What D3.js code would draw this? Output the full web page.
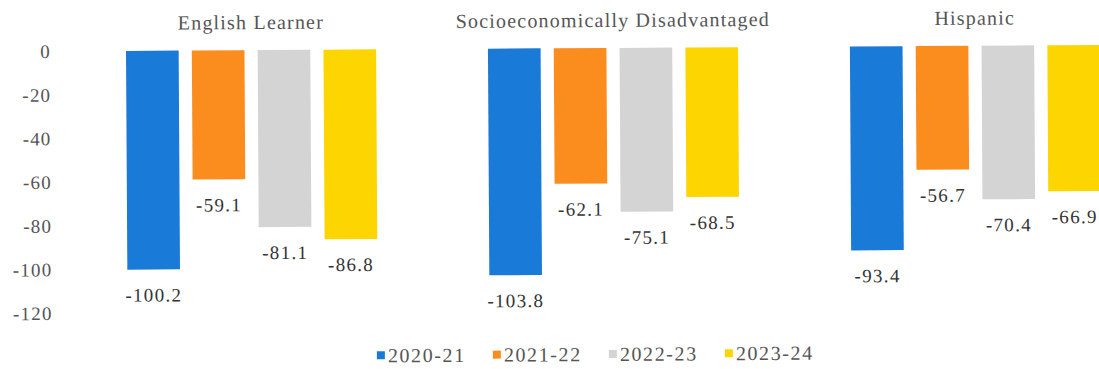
<!DOCTYPE html>
<html>
<head>
<meta charset="utf-8">
<script src="https://cdn.jsdelivr.net/npm/d3@7"></script>
<style>
  html, body { margin: 0; padding: 0; background: #fff; }
  svg { display: block; }
  text { font-family: "Liberation Serif", "Times New Roman", serif; }
</style>
</head>
<body>
<svg id="chart" width="1099" height="369"></svg>
<script>
// Student groups (one panel each) and school years (one bar each)
const groups = ["English Learner", "Socioeconomically Disadvantaged", "Hispanic"];
const years = ["2020-21", "2021-22", "2022-23", "2023-24"];
const englishLearner = [-100.2, -59.1, -81.1, -86.8];
const socioDisadvantaged = [-103.8, -62.1, -75.1, -68.5];
const hispanic = [-93.4, -56.7, -70.4, -66.9];
const yTicks = [0, -20, -40, -60, -80, -100, -120];
const colors = ["#1a7ad8", "#fb8c1e", "#d4d4d4", "#fdd602"];

const seriesByGroup = [englishLearner, socioDisadvantaged, hispanic];

const svg = d3.select("#chart");
// the whole figure sits very slightly tilted
const root = svg.append("g").attr("transform", "rotate(-0.35, 600, 49)");

const x0 = d3.scaleBand().domain(groups).range([126, 1100]).paddingInner(0.309).paddingOuter(0);
const x1 = d3.scaleBand().domain(years).range([0, x0.bandwidth()]).paddingInner(0.2).paddingOuter(0);
const y = d3.scaleLinear().domain([-120, 0]).range([310, 48]);
const color = d3.scaleOrdinal().domain(years).range(colors);

// y axis labels only (no line, no tick marks), plain hyphen for negatives
const yAxis = d3.axisLeft(y).tickValues(yTicks).tickSize(0).tickPadding(0)
  .tickFormat(d => String(d));
const ax = root.append("g").attr("transform", "translate(51,0)").call(yAxis);
ax.select(".domain").remove();
ax.selectAll("text")
  .attr("font-size", 19)
  .attr("letter-spacing", 1.2)
  .attr("fill", "#555");

const panel = root.selectAll("g.panel")
  .data(groups.map((g, i) => ({ group: g, values: seriesByGroup[i] })))
  .join("g")
  .attr("class", "panel")
  .attr("transform", d => `translate(${x0(d.group)},0)`);

panel.append("text")
  .attr("x", x0.bandwidth() / 2)
  .attr("y", 27)
  .attr("text-anchor", "middle")
  .attr("font-size", 20)
  .attr("letter-spacing", 1.2)
  .attr("fill", "#555")
  .text(d => d.group);

const items = d => d.values.map((v, j) => ({ year: years[j], value: v }));

panel.selectAll("rect")
  .data(items)
  .join("rect")
  .attr("x", d => x1(d.year))
  .attr("width", x1.bandwidth())
  .attr("y", y(0))
  .attr("height", d => y(d.value) - y(0))
  .attr("fill", d => color(d.year));

panel.selectAll("text.val")
  .data(items)
  .join("text")
  .attr("class", "val")
  .attr("x", d => x1(d.year) + x1.bandwidth() / 2)
  .attr("y", d => y(d.value) + 32)
  .attr("text-anchor", "middle")
  .attr("font-size", 19)
  .attr("letter-spacing", 1.3)
  .attr("fill", "#333")
  .text(d => d.value.toFixed(1));

// legend
const legend = root.append("g").attr("transform", "translate(375,0)");
const li = legend.selectAll("g")
  .data(years)
  .join("g")
  .attr("transform", (d, i) => `translate(${i * 116},0)`);
li.append("rect")
  .attr("x", 0).attr("y", 350)
  .attr("width", 8).attr("height", 8)
  .attr("fill", d => color(d));
li.append("text")
  .attr("x", 11).attr("y", 361)
  .attr("font-size", 20)
  .attr("letter-spacing", 1.6)
  .attr("fill", "#555")
  .text(d => d);
</script>
</body>
</html>
